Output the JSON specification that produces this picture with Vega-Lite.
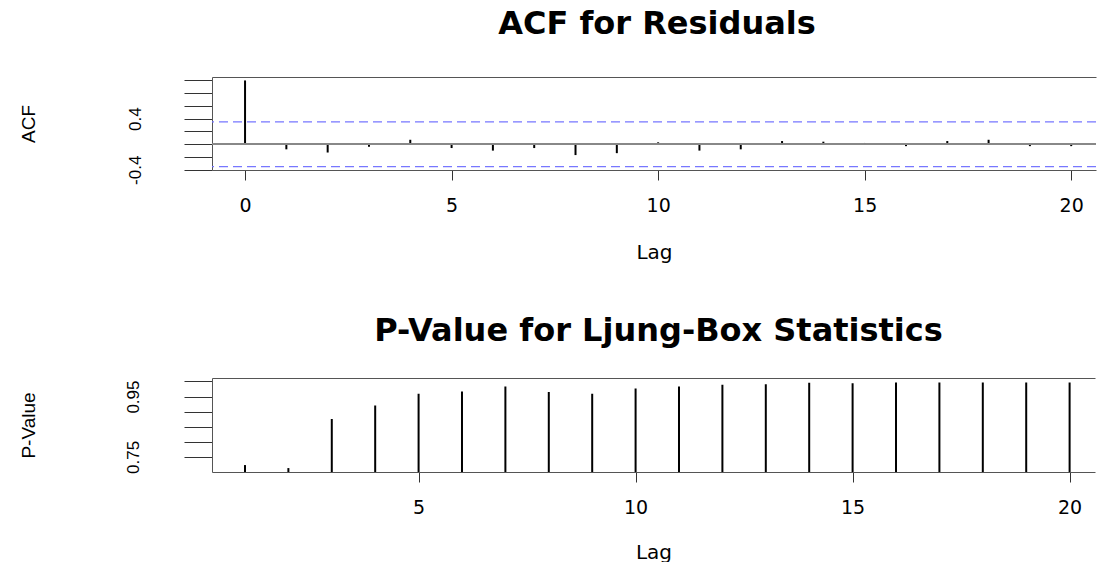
{
  "$schema": "https://vega.github.io/schema/vega-lite/v6.json",
  "padding": {"left": 19, "top": 8, "right": 0, "bottom": 0},
  "background": "white",
  "config": {"view": {"stroke": null}, "font": "Liberation Sans"},
  "spacing": 53,
  "vconcat": [
    {
      "width": 884,
      "height": 93,
      "title": {"text": "ACF for Residuals", "font": "DejaVu Sans", "fontSize": 32, "fontWeight": "bold", "anchor": "middle", "offset": 36, "dx": 3, "color": "black"},
      "data": {"values": [
        {"lag": 0, "acf": 1.0}, {"lag": 1, "acf": -0.08}, {"lag": 2, "acf": -0.13}, {"lag": 3, "acf": -0.04},
        {"lag": 4, "acf": 0.07}, {"lag": 5, "acf": -0.06}, {"lag": 6, "acf": -0.10}, {"lag": 7, "acf": -0.06},
        {"lag": 8, "acf": -0.17}, {"lag": 9, "acf": -0.14}, {"lag": 10, "acf": 0.03}, {"lag": 11, "acf": -0.10},
        {"lag": 12, "acf": -0.08}, {"lag": 13, "acf": 0.05}, {"lag": 14, "acf": 0.04}, {"lag": 15, "acf": 0.02},
        {"lag": 16, "acf": -0.03}, {"lag": 17, "acf": 0.05}, {"lag": 18, "acf": 0.07}, {"lag": 19, "acf": -0.03},
        {"lag": 20, "acf": -0.03}
      ]},
      "layer": [
        {
          "mark": {"type": "rule", "color": "black", "strokeWidth": 2},
          "encoding": {
            "x": {"field": "lag", "type": "quantitative",
              "scale": {"domain": [-0.8, 20.6], "nice": false, "zero": false},
              "axis": {"values": [0, 5, 10, 15, 20], "tickSize": 10, "labelPadding": 16, "labelFont": "DejaVu Sans", "labelFontSize": 19, "labelColor": "black", "title": "Lag", "titleFont": "DejaVu Sans", "titleFontSize": 20, "titleFontWeight": "normal", "titleColor": "black", "titlePadding": 27, "grid": false, "domainColor": "#555555", "tickColor": "#333333", "labelFlush": false}},
            "y": {"field": "acf", "type": "quantitative",
              "scale": {"domain": [-0.404, 1.054], "nice": false, "zero": false},
              "axis": {"values": [-0.4, -0.2, 0, 0.2, 0.4, 0.6, 0.8, 1.0], "labelExpr": "abs(datum.value - 0.4) < 0.001 ? '0.4' : (abs(datum.value + 0.4) < 0.001 ? '-0.4' : '')", "tickSize": 28, "labelAngle": 270, "labelAlign": "center", "labelBaseline": "bottom", "labelPadding": 40, "labelFontSize": 17, "labelColor": "black", "labelOverlap": false, "labelFlush": false, "title": "ACF", "titleFontSize": 19, "titleFontWeight": "normal", "titleColor": "black", "titlePadding": 114, "grid": false, "domainColor": "#555555", "tickColor": "#333333", "minExtent": 60, "maxExtent": 60}},
            "y2": {"datum": 0}
          }
        },
        {
          "mark": {"type": "rule", "color": "#888888", "strokeWidth": 1.2},
          "encoding": {"y": {"datum": 0, "type": "quantitative", "axis": null}}
        },
        {
          "data": {"values": [{"ci": 0.35}, {"ci": -0.35}]},
          "mark": {"type": "rule", "color": "#7777ff", "strokeDash": [9, 5], "strokeWidth": 1.3},
          "encoding": {"y": {"field": "ci", "type": "quantitative", "axis": null}}
        },
        {
          "mark": {"type": "rule", "opacity": 0},
          "encoding": {
            "x": {"field": "lag", "type": "quantitative", "axis": {"orient": "top", "labels": false, "ticks": false, "title": null, "grid": false, "domainColor": "#555555"}}
          }
        }
      ],
      "resolve": {"axis": {"x": "independent", "y": "independent"}}
    },
    {
      "width": 883,
      "height": 94,
      "title": {"text": "P-Value for Ljung-Box Statistics", "font": "DejaVu Sans", "fontSize": 32, "fontWeight": "bold", "anchor": "middle", "offset": 30, "dx": 5, "color": "black"},
      "data": {"values": [
        {"lag": 1, "p": 0.723}, {"lag": 2, "p": 0.713}, {"lag": 3, "p": 0.876}, {"lag": 4, "p": 0.92},
        {"lag": 5, "p": 0.959}, {"lag": 6, "p": 0.967}, {"lag": 7, "p": 0.983}, {"lag": 8, "p": 0.965},
        {"lag": 9, "p": 0.959}, {"lag": 10, "p": 0.977}, {"lag": 11, "p": 0.983}, {"lag": 12, "p": 0.989},
        {"lag": 13, "p": 0.991}, {"lag": 14, "p": 0.996}, {"lag": 15, "p": 0.994}, {"lag": 16, "p": 0.997},
        {"lag": 17, "p": 0.997}, {"lag": 18, "p": 0.997}, {"lag": 19, "p": 0.997}, {"lag": 20, "p": 0.997}
      ]},
      "layer": [
        {
          "mark": {"type": "rule", "color": "black", "strokeWidth": 2, "clip": true},
          "encoding": {
            "x": {"field": "lag", "type": "quantitative",
              "scale": {"domain": [0.24, 20.585], "nice": false, "zero": false},
              "axis": {"values": [5, 10, 15, 20], "tickSize": 10, "labelPadding": 16, "labelFont": "DejaVu Sans", "labelFontSize": 19, "labelColor": "black", "title": "Lag", "titleFont": "DejaVu Sans", "titleFontSize": 20, "titleFontWeight": "normal", "titleColor": "black", "titlePadding": 25, "grid": false, "domainColor": "#555555", "tickColor": "#333333", "labelFlush": false}},
            "y": {"field": "p", "type": "quantitative",
              "scale": {"domain": [0.70, 1.0115], "nice": false, "zero": false},
              "axis": {"values": [0.75, 0.8, 0.85, 0.9, 0.95, 1.0], "labelExpr": "abs(datum.value - 0.75) < 0.001 ? '0.75' : (abs(datum.value - 0.95) < 0.001 ? '0.95' : '')", "tickSize": 28, "labelAngle": 270, "labelAlign": "center", "labelBaseline": "bottom", "labelPadding": 42, "labelFontSize": 17, "labelColor": "black", "labelOverlap": false, "labelFlush": false, "title": "P-Value", "titleFontSize": 19, "titleFontWeight": "normal", "titleColor": "black", "titlePadding": 114, "grid": false, "domainColor": "#555555", "tickColor": "#333333", "minExtent": 60, "maxExtent": 60}},
            "y2": {"datum": 0}
          }
        },
        {
          "mark": {"type": "rule", "opacity": 0},
          "encoding": {
            "x": {"field": "lag", "type": "quantitative", "axis": {"orient": "top", "labels": false, "ticks": false, "title": null, "grid": false, "domainColor": "#555555"}}
          }
        }
      ],
      "resolve": {"axis": {"x": "independent"}}
    }
  ]
}
